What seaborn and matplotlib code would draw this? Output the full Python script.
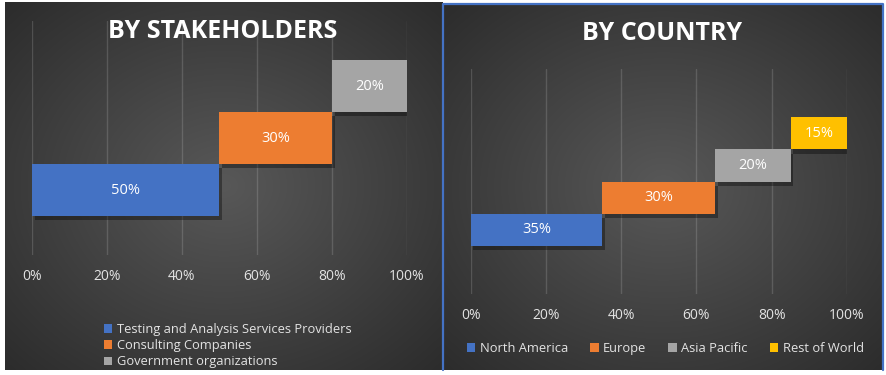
import numpy as np
import pandas as pd
import matplotlib
matplotlib.use("Agg")
import matplotlib.pyplot as plt
import matplotlib.patheffects as pe
from matplotlib.patches import Patch
from matplotlib.lines import Line2D
import seaborn as sns

# ---------------- data ----------------
stake_labels = ["Testing and Analysis Services Providers", "Consulting Companies", "Government organizations"]
stake_values = [50, 30, 20]
stake_colors = ["#4472C4", "#ED7D31", "#A5A5A5"]

country_labels = ["North America", "Europe", "Asia Pacific", "Rest of World"]
country_values = [35, 30, 20, 15]
country_colors = ["#4472C4", "#ED7D31", "#A5A5A5", "#FFC000"]

tick_values = [0, 20, 40, 60, 80, 100]
tick_labels = ["0%", "20%", "40%", "60%", "80%", "100%"]

titles = ["BY STAKEHOLDERS", "BY COUNTRY"]

# ---------------- style ----------------
sns.set_theme(style="dark")
plt.rcParams["font.family"] = ["Open Sans", "DejaVu Sans"]

W, H = 887, 375
fig = plt.figure(figsize=(W / 100, H / 100), dpi=100)
fig.patch.set_facecolor("white")


def px_axes(x0, y0, x1, y1, **kw):
    return fig.add_axes([x0 / W, 1 - y1 / H, (x1 - x0) / W, (y1 - y0) / H], **kw)


def panel_bg(x0, y0, x1, y1, border=None):
    ax = px_axes(x0, y0, x1, y1, zorder=0)
    ny, nx = 200, 240
    yy, xx = np.mgrid[-1:1:ny * 1j, -1:1:nx * 1j]
    r = np.clip(np.sqrt(xx ** 2 + yy ** 2) / np.sqrt(2), 0, 1)
    c_center = np.array([0x58, 0x58, 0x58]) / 255
    c_edge = np.array([0x2c, 0x2c, 0x2c]) / 255
    img = c_center[None, None, :] * (1 - r[..., None]) + c_edge[None, None, :] * r[..., None]
    ax.imshow(img, extent=[0, 1, 0, 1], aspect="auto", interpolation="bilinear")
    ax.set_xlim(0, 1)
    ax.set_ylim(0, 1)
    ax.axis("off")
    if border:
        # top, left and right edges only
        ax.add_line(Line2D([0, 0, 1, 1], [0, 1, 1, 0], transform=ax.transAxes,
                           color=border, lw=1.6, clip_on=False))
    return ax


panel_bg(5, 2, 443, 370)
panel_bg(443, 4, 883, 370, border="#4472C4")


def waterfall(ax, labels, values, colors, pad):
    df = pd.DataFrame({"cat": labels, "val": values})
    order = labels[::-1]
    sns.barplot(data=df, x="val", y="cat", hue="cat", order=order, hue_order=labels,
                palette=colors, width=1.0, orient="h", legend=False, ax=ax,
                saturation=1, linewidth=0)
    starts = np.concatenate([[0], np.cumsum(values)[:-1]])
    start_map = dict(zip(labels, starts))
    val_map = dict(zip(labels, values))
    shadow = [pe.SimplePatchShadow(offset=(2, -3), shadow_rgbFace="black", alpha=0.35), pe.Normal()]
    for p in ax.patches:
        yc = p.get_y() + p.get_height() / 2
        idx = int(round(yc))
        cat = order[idx]
        p.set_x(start_map[cat])
        p.set_path_effects(shadow)
        p.set_zorder(3)
        ax.text(start_map[cat] + val_map[cat] / 2, yc, f"{val_map[cat]}%", ha="center", va="center",
                color="white", fontsize=10.5, zorder=4)
    n = len(labels)
    ax.set_ylim(n - 0.5 + pad, -0.5 - pad)
    ax.set_xlim(0, 100)
    ax.set_facecolor("none")
    ax.set_xticks(tick_values)
    ax.set_xticklabels(tick_labels)
    ax.set_yticks([])
    ax.set_xlabel("")
    ax.set_ylabel("")
    ax.tick_params(axis="x", colors="#e3e3e3", labelsize=10, length=0, pad=10)
    ax.grid(axis="x", color="white", alpha=0.15, lw=1)
    ax.grid(axis="y", visible=False)
    for s in ax.spines.values():
        s.set_visible(False)


ax1 = px_axes(32, 21, 407, 255, zorder=2)
waterfall(ax1, stake_labels, stake_values, stake_colors, pad=0.75)

ax2 = px_axes(470.7, 69, 847, 294, zorder=2)
waterfall(ax2, country_labels, country_values, country_colors, pad=1.5)

# titles
fig.text(223 / W, 1 - 32 / H, titles[0], ha="center", va="center", color="white",
         fontsize=18, fontweight="bold")
fig.text(662 / W, 1 - 33 / H, titles[1], ha="center", va="center", color="white",
         fontsize=18, fontweight="bold")

# legends
h1 = [Patch(facecolor=c, edgecolor="none") for c in stake_colors]
leg1 = fig.legend(h1, stake_labels, loc="upper left", bbox_to_anchor=(104 / W, 1 - 323 / H),
                  frameon=False, fontsize=9.3, handlelength=0.65, handleheight=0.65,
                  handletextpad=0.35, labelspacing=0.25, borderpad=0, borderaxespad=0)
for t in leg1.get_texts():
    t.set_color("#e3e3e3")

h2 = [Patch(facecolor=c, edgecolor="none") for c in country_colors]
leg2 = fig.legend(h2, country_labels, loc="upper left", bbox_to_anchor=(467 / W, 1 - 342 / H),
                  frameon=False, fontsize=9.3, ncol=4, handlelength=0.65, handleheight=0.65,
                  handletextpad=0.35, columnspacing=1.7, borderpad=0, borderaxespad=0)
for t in leg2.get_texts():
    t.set_color("#e3e3e3")

fig.savefig("out.png", dpi=100, facecolor="white")
